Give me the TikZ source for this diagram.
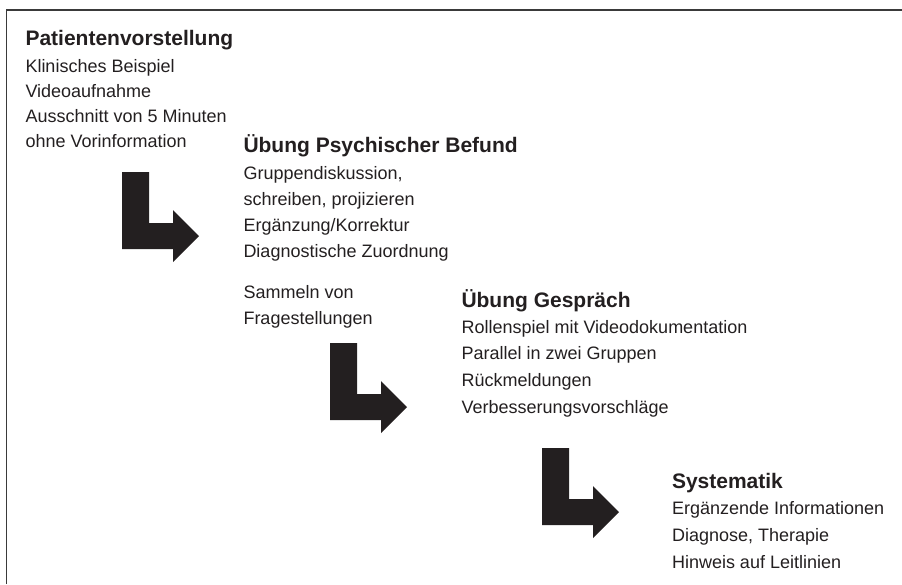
\documentclass[tikz,border=0pt]{standalone}
\usepackage{fontspec}
\setmainfont{Liberation Sans}
\usepackage{xcolor}
\definecolor{ink}{HTML}{231F20}
\definecolor{framegray}{HTML}{3A3A3A}
\usetikzlibrary{positioning}

\begin{document}
\begin{tikzpicture}[
    x=1pt, y=-1pt,
    every node/.style={inner sep=0pt, outer sep=0pt, text=ink, align=left, anchor=base west},
    heading/.style={font=\fontsize{21}{25}\selectfont\bfseries},
    body/.style={font=\fontsize{18}{#1}\selectfont},
    body/.default=26,
    bentarrow/.pic={
        \fill[ink] (0,0) -- (27,0) -- (27,51) -- (51,51) -- (51,38) -- (77,64)
            -- (51,90) -- (51,77) -- (0,77) -- cycle;
    }
]
\useasboundingbox (0,0) rectangle (902,584);

% frame (top and left edge only)
\draw[framegray, line width=1.2pt] (6.5,584) -- (6.5,10) -- (902,10);

% Patientenvorstellung (body nodes sit on the baseline of their last line)
\node[heading] (patient) at (25.5,45) {Patientenvorstellung};
\node[body=24.7] (patientinfo) at (25.5,147) {Klinisches Beispiel\\Videoaufnahme\\Ausschnitt von 5 Minuten\\ohne Vorinformation};

% Uebung Psychischer Befund
\node[heading] (befund) at (243.5,152) {Übung Psychischer Befund};
\node[body] (befundinfo) at (243.5,257) {Gruppendiskussion,\\schreiben, projizieren\\Ergänzung/Korrektur\\Diagnostische Zuordnung};
\node[body] (fragen) at (243.5,324) {Sammeln von\\Fragestellungen};

% Uebung Gespraech
\node[heading] (gespraech) at (461.5,307) {Übung Gespräch};
\node[body=26.6] (gespraechinfo) at (461.5,413) {Rollenspiel mit Videodokumentation\\Parallel in zwei Gruppen\\Rückmeldungen\\Verbesserungsvorschläge};

% Systematik
\node[heading] (system) at (672,488) {Systematik};
\node[body=26.6] (systeminfo) at (672,568) {Ergänzende Informationen\\Diagnose, Therapie\\Hinweis auf Leitlinien};

% arrows
\pic at (122,172) {bentarrow};
\pic at (330,343) {bentarrow};
\pic at (542,448) {bentarrow};
\end{tikzpicture}
\end{document}
